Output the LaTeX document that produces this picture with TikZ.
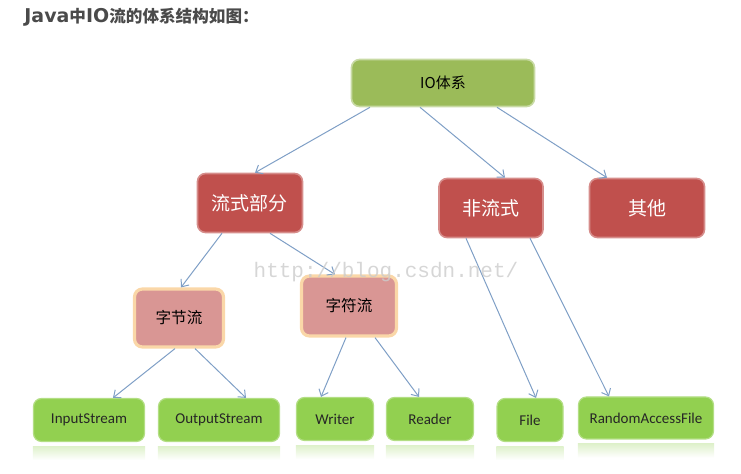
\documentclass[tikz,border=0pt]{standalone}
\usepackage{fontspec}
\setmainfont{Carlito}
\newfontfamily\cjk{Noto Sans CJK SC}
\newfontfamily\titlelatin{DejaVu Sans}
\newfontfamily\wmfont{Liberation Mono}
\usetikzlibrary{positioning,arrows.meta}

\definecolor{topgreen}{HTML}{9BBB59}
\definecolor{redbox}{HTML}{C0504D}
\definecolor{pinkbox}{HTML}{D99694}
\definecolor{glow}{HTML}{FAD7A8}
\definecolor{botgreen}{HTML}{92D050}
\definecolor{linkblue}{HTML}{7F9FC6}
\definecolor{titlegray}{HTML}{4A4A4A}

\begin{document}
\begin{tikzpicture}[x=0.5pt,y=-0.5pt,
    box/.style={rounded corners=4pt, align=center, inner sep=0pt},
    rootbox/.style={box, fill=topgreen, draw=topgreen!55!white, line width=0.8pt,
        minimum width=91.5pt, minimum height=23.5pt, font=\cjk\fontsize{7.5}{9}\selectfont},
    groupbox/.style={box, fill=redbox, draw=redbox!65!white, line width=0.8pt,
        minimum height=29.5pt, text=white, font=\cjk\fontsize{9.5}{11}\selectfont},
    kindbox/.style={box, fill=pinkbox, draw=glow, line width=1.6pt,
        font=\cjk\fontsize{7.8}{9}\selectfont},
    leafbox/.style={box, fill=botgreen, draw=botgreen!70!white, line width=0.6pt,
        minimum height=21.5pt, text=black!85, font=\fontsize{7.5}{9}\selectfont},
    link/.style={draw=linkblue, line width=0.5pt, -{Straight Barb[length=3pt,width=5pt]}}]

    \useasboundingbox (0,0) rectangle (741,474);

    % Title
    \node[anchor=west, text=titlegray, inner sep=0pt] (title) at (24,17)
        {{\titlelatin\bfseries\fontsize{9.5}{11}\selectfont Java}{\cjk\bfseries\fontsize{8.3}{10}\selectfont 中}{\titlelatin\bfseries\fontsize{9.5}{11}\selectfont IO}{\cjk\bfseries\fontsize{8.3}{10}\selectfont 流的体系结构如图：}};

    % Top
    \node[rootbox] (io) at (443,83) {IO体系};

    % Second row
    \node[groupbox, minimum width=52.5pt] (flow) at (250,203) {流式部分};
    \node[groupbox, minimum width=52pt] (nonflow) at (491,208) {非流式};
    \node[groupbox, minimum width=57.5pt] (other) at (647,208) {其他};

    % Third row
    \node[kindbox, minimum width=44.5pt, minimum height=29pt] (byte) at (179,318) {字节流};
    \node[kindbox, minimum width=47.5pt, minimum height=30pt] (char) at (349,306) {字符流};

    % Leaves
    \node[leafbox, minimum width=55.5pt] (in) at (89,420) {InputStream};
    \node[leafbox, minimum width=60.5pt] (out) at (219,420) {OutputStream};
    \node[leafbox, minimum width=38.5pt] (writer) at (335,419) {Writer};
    \node[leafbox, minimum width=43.5pt] (reader) at (430,419) {Reader};
    \node[leafbox, minimum width=33pt] (file) at (530,420) {File};
    \node[leafbox, minimum width=67.5pt, minimum height=21pt] (raf) at (646,418) {RandomAccessFile};

    % Reflections under the leaves
    \foreach \n in {in,out,writer,reader,file,raf}
        \shade[top color=botgreen!30, bottom color=white]
            ([yshift=-2pt]\n.south west) rectangle ([yshift=-9pt]\n.south east);

    % Arrows
    \draw[link] ([xshift=-36.5pt]io.south) -- ([xshift=2.5pt]flow.north);
    \draw[link] ([xshift=-11.5pt]io.south) -- ([xshift=7pt]nonflow.north);
    \draw[link] ([xshift=27pt]io.south) -- ([xshift=-20pt]other.north);

    \draw[link] ([xshift=-14pt]flow.south) -- ([xshift=1pt]byte.north);
    \draw[link] ([xshift=10pt]flow.south) -- ([xshift=-7pt]char.north);

    \draw[link] ([xshift=-2pt]byte.south) -- ([xshift=12pt]in.north);
    \draw[link] ([xshift=8pt]byte.south) -- ([xshift=13.5pt]out.north);
    \draw[link] ([xshift=-1.5pt]char.south) -- ([xshift=-7pt]writer.north);
    \draw[link] ([xshift=13pt]char.south) -- ([xshift=-5.5pt]reader.north);

    \draw[link] ([xshift=-12.5pt]nonflow.south) -- ([xshift=3pt]file.north);
    \draw[link] ([xshift=19.5pt]nonflow.south) -- ([xshift=-18.5pt]raf.north);

    % Watermark
    \node[text=gray!40, opacity=0.8, font=\wmfont\fontsize{10.5}{12}\selectfont] (mark) at (386,272) {http://blog.csdn.net/};
\end{tikzpicture}
\end{document}
